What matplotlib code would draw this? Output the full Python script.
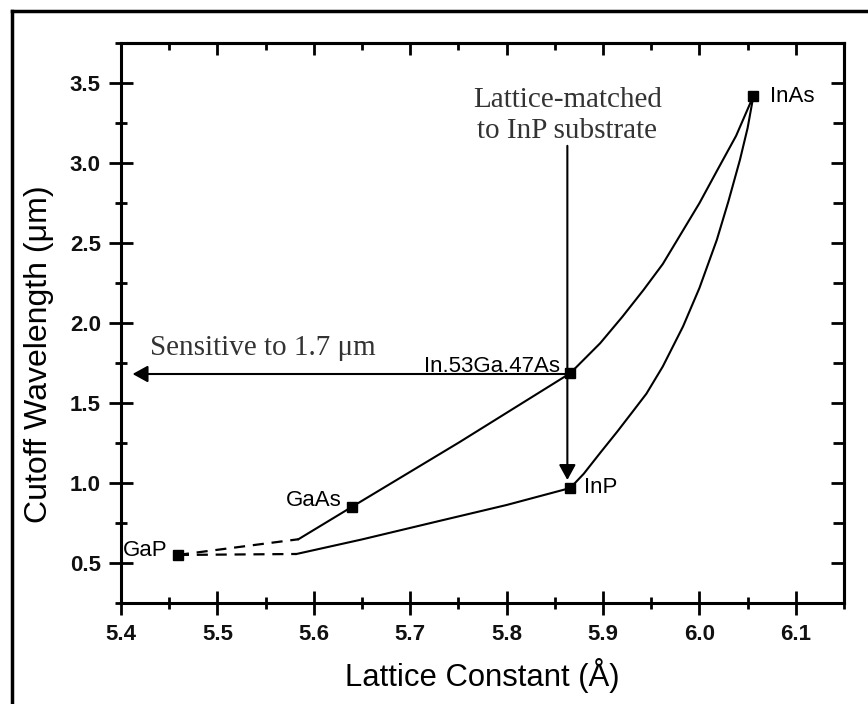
import matplotlib
matplotlib.use("Agg")
import matplotlib.pyplot as plt
from matplotlib.lines import Line2D
from matplotlib.ticker import MultipleLocator, NullFormatter

# binary / ternary compounds: lattice constant (A), cutoff wavelength (um)
compounds = ["GaP", "GaAs", "In.53Ga.47As", "InP", "InAs"]
comp_a = [5.459, 5.640, 5.866, 5.866, 6.056]
comp_wl = [0.553, 0.855, 1.688, 0.971, 3.42]

# upper branch (GaAs -> InGaAs -> InAs)
upper_a = [5.584, 5.640, 5.751, 5.866, 5.897, 5.920, 5.942, 5.962, 5.983,
           6.000, 6.018, 6.038, 6.056]
upper_wl = [0.651, 0.855, 1.257, 1.688, 1.875, 2.04, 2.208, 2.37, 2.58,
            2.75, 2.95, 3.17, 3.42]

# lower branch (through InP -> InAs)
lower_a = [5.582, 5.65, 5.73, 5.80, 5.866, 5.880, 5.897, 5.915, 5.931, 5.945,
           5.962, 5.983, 6.000, 6.018, 6.030, 6.042, 6.050, 6.056]
lower_wl = [0.559, 0.65, 0.765, 0.865, 0.971, 1.06, 1.19, 1.325, 1.45, 1.56,
            1.73, 1.98, 2.22, 2.52, 2.76, 3.02, 3.22, 3.42]

# dashed extrapolation towards GaP
dash_up_a = [5.459, 5.584]
dash_up_wl = [0.553, 0.651]
dash_lo_a = [5.459, 5.582]
dash_lo_wl = [0.553, 0.559]

xticks = [5.4, 5.5, 5.6, 5.7, 5.8, 5.9, 6.0, 6.1]
yticks = [0.5, 1.0, 1.5, 2.0, 2.5, 3.0, 3.5]

sans = "Liberation Sans"
serif = "Liberation Serif"

fig = plt.figure(figsize=(8.68, 7.04), dpi=100)
ax = fig.add_axes([0.1394, 0.1428, 0.8330, 0.7961])

ax.plot(upper_a, upper_wl, color="black", lw=1.5)
ax.plot(lower_a, lower_wl, color="black", lw=1.5)
ax.plot(dash_up_a, dash_up_wl, color="black", lw=1.6, dashes=(5, 3.5))
ax.plot(dash_lo_a, dash_lo_wl, color="black", lw=1.6, dashes=(5, 3.5))
ax.plot(comp_a, comp_wl, "s", color="black", ms=7, zorder=5)

# compound labels
lab = dict(fontsize=16, family=sans, color="black", va="baseline")
ax.text(6.073, 3.384, "InAs", ha="left", **lab)
ax.text(5.880, 0.938, "InP", ha="left", **lab)
ax.text(5.629, 0.858, "GaAs", ha="right", **lab)
ax.text(5.448, 0.549, "GaP", ha="right", **lab)
ax.text(5.855, 1.695, "In.53Ga.47As", ha="right", **lab)

# arrows
arr = dict(arrowstyle="-|>,head_length=0.4,head_width=0.22", color="black",
           lw=1.5, shrinkA=0, shrinkB=0, mutation_scale=23)
ax.annotate("", xy=(5.863, 1.021), xytext=(5.863, 3.108), arrowprops=arr)
ax.annotate("", xy=(5.412, 1.683), xytext=(5.866, 1.683), arrowprops=arr)

ax.text(5.863, 3.156, "Lattice-matched\nto InP substrate", ha="center",
        va="baseline", fontsize=21, family=serif, color="#333333",
        linespacing=1.25, multialignment="center")
ax.text(5.4296, 1.804, "Sensitive to 1.7 \u03bcm", ha="left", va="baseline",
        fontsize=21, family=serif, color="#333333")

ax.set_xlim(5.4, 6.15)
ax.set_ylim(0.25, 3.75)
ax.set_xticks(xticks)
ax.set_yticks(yticks)
ax.set_xticklabels([f"{v:.1f}" for v in xticks])
ax.set_yticklabels([f"{v:.1f}" for v in yticks])
ax.xaxis.set_minor_locator(MultipleLocator(0.05))
ax.yaxis.set_minor_locator(MultipleLocator(0.25))

ax.tick_params(which="both", direction="inout", top=False, right=False,
               width=2, color="black")
ax.tick_params(which="major", length=17, pad=6, labelsize=16)
ax.tick_params(which="minor", length=9)
for t in ax.get_xticklabels() + ax.get_yticklabels():
    t.set_family(sans)
    t.set_fontweight("bold")
    t.set_color("#111111")

for s in ax.spines.values():
    s.set_linewidth(2.2)

# top and right ticks point inward only
secx = ax.secondary_xaxis("top")
secx.set_xticks(xticks)
secx.xaxis.set_minor_locator(MultipleLocator(0.05))
secx.xaxis.set_major_formatter(NullFormatter())
secx.tick_params(which="both", direction="in", width=2)
secx.tick_params(which="major", length=8.6)
secx.tick_params(which="minor", length=5)
secx.spines["top"].set_linewidth(2.2)

secy = ax.secondary_yaxis("right")
secy.set_yticks(yticks)
secy.yaxis.set_minor_locator(MultipleLocator(0.25))
secy.yaxis.set_major_formatter(NullFormatter())
secy.tick_params(which="both", direction="in", width=2)
secy.tick_params(which="major", length=9.5)
secy.tick_params(which="minor", length=8)
secy.spines["right"].set_linewidth(2.2)

ax.set_xlabel("Lattice Constant (\u00c5)", fontsize=22.3, family=sans)
ax.set_ylabel("Cutoff Wavelength (\u03bcm)", fontsize=23, family=sans)
ax.xaxis.label.set_va("center")
ax.yaxis.label.set_va("center")
ax.xaxis.set_label_coords(0.5, -0.1294)
ax.yaxis.set_label_coords(-0.1134, 0.445)

# scanned page frame (top and left edges)
fig.add_artist(Line2D([0.0133, 1.0], [0.9837, 0.9837], color="black", lw=2.5,
                      transform=fig.transFigure))
fig.add_artist(Line2D([0.0133, 0.0133], [0.0, 0.9837], color="black", lw=2.5,
                      transform=fig.transFigure))

fig.savefig("out.png", dpi=100)
